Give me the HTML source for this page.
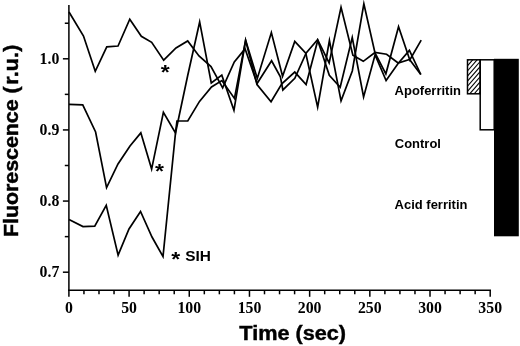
<!DOCTYPE html>
<html><head><meta charset="utf-8"><title>Fluorescence vs Time</title>
<style>
html,body{margin:0;padding:0;background:#fff;}
body{width:520px;height:346px;overflow:hidden;}
svg{display:block;}
.sans{font-family:"Liberation Sans",Arial,Helvetica,sans-serif;font-weight:bold;fill:#000;}
.serif{font-family:"Liberation Serif","Times New Roman",Times,serif;font-weight:bold;fill:#000;font-size:15.8px;}
</style></head><body>
<svg width="520" height="346" viewBox="0 0 520 346">
<defs>
<clipPath id="hc"><rect x="467.5" y="59.8" width="12.7" height="34"/></clipPath>
</defs>
<rect width="520" height="346" fill="#fff"/>
<g stroke="#000" stroke-width="1.5" fill="none" stroke-linecap="butt">
<line x1="68.9" y1="5" x2="68.9" y2="291.1"/>
<line x1="68.10000000000001" y1="290.3" x2="491" y2="290.3"/>
<line x1="68.90" y1="290.3" x2="68.90" y2="296.8"/>
<line x1="83.95" y1="290.3" x2="83.95" y2="294.3"/>
<line x1="98.99" y1="290.3" x2="98.99" y2="294.3"/>
<line x1="114.04" y1="290.3" x2="114.04" y2="294.3"/>
<line x1="129.09" y1="290.3" x2="129.09" y2="296.8"/>
<line x1="144.13" y1="290.3" x2="144.13" y2="294.3"/>
<line x1="159.18" y1="290.3" x2="159.18" y2="294.3"/>
<line x1="174.22" y1="290.3" x2="174.22" y2="294.3"/>
<line x1="189.27" y1="290.3" x2="189.27" y2="296.8"/>
<line x1="204.32" y1="290.3" x2="204.32" y2="294.3"/>
<line x1="219.36" y1="290.3" x2="219.36" y2="294.3"/>
<line x1="234.41" y1="290.3" x2="234.41" y2="294.3"/>
<line x1="249.46" y1="290.3" x2="249.46" y2="296.8"/>
<line x1="264.50" y1="290.3" x2="264.50" y2="294.3"/>
<line x1="279.55" y1="290.3" x2="279.55" y2="294.3"/>
<line x1="294.60" y1="290.3" x2="294.60" y2="294.3"/>
<line x1="309.64" y1="290.3" x2="309.64" y2="296.8"/>
<line x1="324.69" y1="290.3" x2="324.69" y2="294.3"/>
<line x1="339.74" y1="290.3" x2="339.74" y2="294.3"/>
<line x1="354.78" y1="290.3" x2="354.78" y2="294.3"/>
<line x1="369.83" y1="290.3" x2="369.83" y2="296.8"/>
<line x1="384.88" y1="290.3" x2="384.88" y2="294.3"/>
<line x1="399.92" y1="290.3" x2="399.92" y2="294.3"/>
<line x1="414.97" y1="290.3" x2="414.97" y2="294.3"/>
<line x1="430.01" y1="290.3" x2="430.01" y2="296.8"/>
<line x1="445.06" y1="290.3" x2="445.06" y2="294.3"/>
<line x1="460.11" y1="290.3" x2="460.11" y2="294.3"/>
<line x1="475.15" y1="290.3" x2="475.15" y2="294.3"/>
<line x1="490.20" y1="290.3" x2="490.20" y2="296.8"/>
<line x1="64.8" y1="23.23" x2="68.9" y2="23.23"/>
<line x1="62.9" y1="58.80" x2="68.9" y2="58.80"/>
<line x1="64.8" y1="94.37" x2="68.9" y2="94.37"/>
<line x1="62.9" y1="129.93" x2="68.9" y2="129.93"/>
<line x1="64.8" y1="165.50" x2="68.9" y2="165.50"/>
<line x1="62.9" y1="201.07" x2="68.9" y2="201.07"/>
<line x1="64.8" y1="236.63" x2="68.9" y2="236.63"/>
<line x1="62.9" y1="272.20" x2="68.9" y2="272.20"/>
</g>
<g stroke="#000" stroke-width="1.7" fill="none" stroke-linejoin="miter" stroke-miterlimit="12">
<polyline points="69.00,12.00 83.50,36.00 95.26,71.32 106.77,46.81 118.03,45.99 129.77,19.28 141.32,36.24 151.67,42.36 163.67,60.17 176.00,48.00 187.70,40.93 199.00,56.00 211.00,66.60 222.66,87.96 234.30,62.00 245.05,48.84 257.11,83.52 271.58,60.72 280.40,76.80 282.87,89.94 294.80,78.30 306.20,53.00 317.54,39.72 329.30,75.20 340.18,87.23 352.25,37.48 363.58,96.97 375.09,54.88 386.09,80.55 398.10,63.50 409.40,50.34 420.80,74.50"/>
<polyline points="69.00,104.40 82.74,104.81 95.60,132.00 106.57,187.62 118.00,164.00 130.00,146.00 140.82,132.88 151.62,169.06 163.39,112.43 175.46,132.96 176.97,121.02 187.77,120.97 199.50,101.40 211.50,87.00 221.89,80.54 234.47,98.39 245.57,40.35 257.00,84.50 271.05,101.80 281.80,83.80 294.77,72.07 306.10,84.53 317.82,40.18 329.14,62.93 341.03,7.33 352.88,55.22 363.26,61.31 375.02,52.46 386.60,54.20 398.17,63.03 409.56,59.38 420.80,74.50"/>
<polyline points="69.00,219.40 83.00,226.60 94.75,226.19 106.24,205.24 118.12,255.15 129.00,229.00 140.53,211.46 152.00,237.00 163.01,256.56 175.50,133.00 187.60,76.00 199.66,21.94 211.27,82.96 221.80,75.17 233.95,110.29 245.63,40.10 257.30,78.42 271.36,32.52 282.57,76.20 294.77,41.36 305.77,53.22 317.65,107.09 329.42,40.51 341.04,100.92 352.30,71.00 363.86,3.80 375.00,53.00 385.87,73.81 398.55,26.79 409.81,59.96 421.20,40.20"/>
</g>
<g class="serif">
<text x="68.9" y="313.1" text-anchor="middle">0</text>
<text x="129.1" y="313.1" text-anchor="middle">50</text>
<text x="189.3" y="313.1" text-anchor="middle">100</text>
<text x="249.5" y="313.1" text-anchor="middle">150</text>
<text x="309.6" y="313.1" text-anchor="middle">200</text>
<text x="369.8" y="313.1" text-anchor="middle">250</text>
<text x="430.0" y="313.1" text-anchor="middle">300</text>
<text x="490.2" y="313.1" text-anchor="middle">350</text>
<text x="59.3" y="64.0" text-anchor="end">1.0</text>
<text x="59.3" y="135.1" text-anchor="end">0.9</text>
<text x="59.3" y="206.3" text-anchor="end">0.8</text>
<text x="59.3" y="277.4" text-anchor="end">0.7</text>
</g>
<text class="sans" font-size="20" stroke="#000" stroke-width="0.45" transform="translate(17.7 237.1) rotate(-90) scale(1.068 1)">Fluorescence (<tspan dx="1.6" letter-spacing="0.2">r.u.)</tspan></text>
<text class="sans" font-size="19.3" stroke="#000" stroke-width="0.4" transform="translate(239.3 339.8) scale(1.123 1)">Time (sec)</text>
<text class="sans" font-size="12.4" transform="translate(394.6 95.2) scale(1.047 1)">Apoferritin</text>
<text class="sans" font-size="12.4" transform="translate(394.8 148.2) scale(1.047 1)">Control</text>
<text class="sans" font-size="12.4" transform="translate(394.6 209.4) scale(1.047 1)">Acid ferritin</text>
<text class="sans" font-size="15.5" transform="translate(185.2 260.5) scale(0.995 1)">SIH</text>
<text class="sans" font-size="20" transform="translate(160.8 78.5) scale(1.15 1)">*</text>
<text class="sans" font-size="20" transform="translate(155.1 177.7) scale(1.15 1)">*</text>
<text class="sans" font-size="20" transform="translate(171.2 266.3) scale(1.15 1)">*</text>
<rect x="494" y="58.8" width="24.8" height="177.5" fill="#000"/>
<rect x="480.2" y="59.8" width="14" height="70" fill="#fff" stroke="#000" stroke-width="1.5"/>
<g clip-path="url(#hc)" stroke="#000" stroke-width="1.1">
<line x1="466.5" y1="61.85" x2="481.2" y2="44.94"/>
<line x1="466.5" y1="66.95" x2="481.2" y2="50.04"/>
<line x1="466.5" y1="72.05" x2="481.2" y2="55.14"/>
<line x1="466.5" y1="77.15" x2="481.2" y2="60.24"/>
<line x1="466.5" y1="82.25" x2="481.2" y2="65.34"/>
<line x1="466.5" y1="87.35" x2="481.2" y2="70.44"/>
<line x1="466.5" y1="92.45" x2="481.2" y2="75.54"/>
<line x1="466.5" y1="97.55" x2="481.2" y2="80.64"/>
<line x1="466.5" y1="102.65" x2="481.2" y2="85.74"/>
<line x1="466.5" y1="107.75" x2="481.2" y2="90.84"/>
<line x1="466.5" y1="112.85" x2="481.2" y2="95.94"/>
<line x1="466.5" y1="117.95" x2="481.2" y2="101.04"/>
</g>
<rect x="467.5" y="59.8" width="12.7" height="34" fill="none" stroke="#000" stroke-width="1.5"/>
</svg>
</body></html>
